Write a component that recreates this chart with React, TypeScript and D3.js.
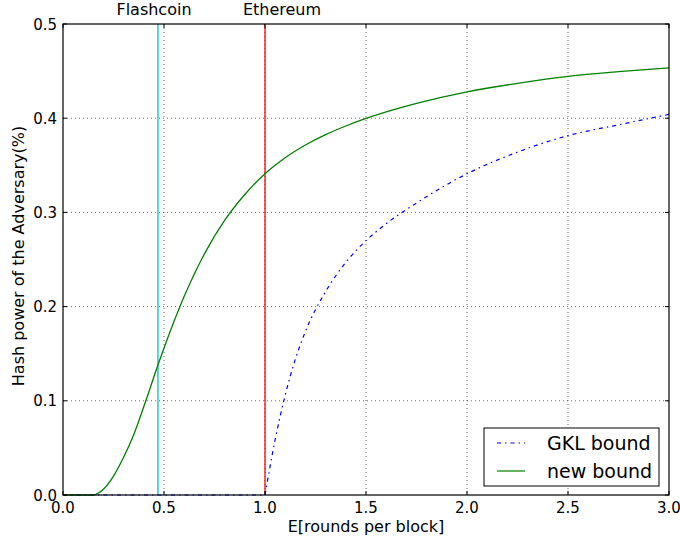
import * as d3 from "d3";
import { useEffect, useRef } from "react";

// new bound (green, solid)
const newX = [0, 0.15, 0.2, 0.25, 0.3, 0.35, 0.41, 0.47, 0.5, 0.6, 0.7, 0.8, 0.9, 1.0, 1.1, 1.2, 1.3, 1.4, 1.5, 1.75, 2.0, 2.25, 2.5, 2.75, 3.0];
const newY = [0, 0, 0.006, 0.02, 0.04, 0.064, 0.1, 0.138, 0.156, 0.211, 0.256, 0.2915, 0.319, 0.341, 0.358, 0.3715, 0.3825, 0.3917, 0.3997, 0.4157, 0.428, 0.437, 0.4445, 0.4495, 0.4535];

// GKL bound (blue, dash-dot): zero up to 1.0, then rising
const gklFlatX = [0, 1.0];
const gklFlatY = [0, 0];
const gklX = [1.0, 1.05, 1.1, 1.15, 1.2, 1.3, 1.4, 1.5, 1.6, 1.75, 2.0, 2.25, 2.5, 2.75, 3.0];
const gklY = [0, 0.0585, 0.106, 0.144, 0.1735, 0.216, 0.247, 0.27, 0.288, 0.31, 0.341, 0.364, 0.3815, 0.393, 0.404];

const xTicks = [0, 0.5, 1.0, 1.5, 2.0, 2.5, 3.0];
const yTicks = [0, 0.1, 0.2, 0.3, 0.4, 0.5];

const markers = [
  { name: "Flashcoin", x: 0.47, color: "#00bfbf", labelX: 154 },
  { name: "Ethereum", x: 1.0, color: "#ff0000", labelX: 282 },
];

const App = () => {
  const svgRef = useRef<SVGSVGElement>(null);

  useEffect(() => {
    const svg = d3.select(svgRef.current);
    svg.selectAll("*").remove();

    const left = 63, right = 669, top = 24, bottom = 495;
    const font = "DejaVu Sans, sans-serif";
    const dashDot = "4,4,1.5,4";

    const x = d3.scaleLinear().domain([0, 3]).range([left, right]);
    const y = d3.scaleLinear().domain([0, 0.5]).range([bottom, top]);

    svg.append("rect").attr("width", 680).attr("height", 541).attr("fill", "white");

    // grid
    const grid = svg.append("g").attr("stroke", "#000").attr("stroke-width", 0.6).attr("stroke-dasharray", "1,3");
    xTicks.slice(1, -1).forEach(t => {
      grid.append("line").attr("x1", x(t)).attr("x2", x(t)).attr("y1", top).attr("y2", bottom);
    });
    yTicks.slice(1, -1).forEach(t => {
      grid.append("line").attr("x1", left).attr("x2", right).attr("y1", y(t)).attr("y2", y(t));
    });

    // vertical marker lines
    markers.forEach(m => {
      svg.append("line")
        .attr("x1", x(m.x)).attr("x2", x(m.x))
        .attr("y1", top).attr("y2", bottom)
        .attr("stroke", m.color).attr("stroke-width", 1.3);
      svg.append("text")
        .attr("x", m.labelX).attr("y", 15)
        .attr("text-anchor", "middle")
        .attr("font-family", font).attr("font-size", 16)
        .attr("fill", "#000")
        .text(m.name);
    });

    const line = d3.line<[number, number]>()
      .x(d => x(d[0]))
      .y(d => y(d[1]))
      .curve(d3.curveMonotoneX);

    const pairs = (xs: number[], ys: number[]) => xs.map((v, i) => [v, ys[i]] as [number, number]);

    svg.append("path")
      .datum(pairs(gklFlatX, gklFlatY))
      .attr("fill", "none")
      .attr("stroke", "#0000ff")
      .attr("stroke-width", 1.2)
      .attr("stroke-dasharray", dashDot)
      .attr("d", line);

    svg.append("path")
      .datum(pairs(gklX, gklY))
      .attr("fill", "none")
      .attr("stroke", "#0000ff")
      .attr("stroke-width", 1.2)
      .attr("stroke-dasharray", dashDot)
      .attr("d", line);

    svg.append("path")
      .datum(pairs(newX, newY))
      .attr("fill", "none")
      .attr("stroke", "#008000")
      .attr("stroke-width", 1.3)
      .attr("d", line);

    // ticks inside on all four sides
    const ticks = svg.append("g").attr("stroke", "#000").attr("stroke-width", 1);
    xTicks.forEach(t => {
      ticks.append("line").attr("x1", x(t)).attr("x2", x(t)).attr("y1", bottom).attr("y2", bottom - 4);
      ticks.append("line").attr("x1", x(t)).attr("x2", x(t)).attr("y1", top).attr("y2", top + 4);
    });
    yTicks.forEach(t => {
      ticks.append("line").attr("x1", left).attr("x2", left + 4).attr("y1", y(t)).attr("y2", y(t));
      ticks.append("line").attr("x1", right).attr("x2", right - 4).attr("y1", y(t)).attr("y2", y(t));
    });

    // frame
    svg.append("rect")
      .attr("x", left).attr("y", top)
      .attr("width", right - left).attr("height", bottom - top)
      .attr("fill", "none").attr("stroke", "#000").attr("stroke-width", 1.2);

    // tick labels
    xTicks.forEach(t => {
      svg.append("text")
        .attr("x", x(t)).attr("y", bottom + 18)
        .attr("text-anchor", "middle")
        .attr("font-family", font).attr("font-size", 15)
        .text(d3.format(".1f")(t));
    });
    yTicks.forEach(t => {
      svg.append("text")
        .attr("x", left - 6).attr("y", y(t) + 5.5)
        .attr("text-anchor", "end")
        .attr("font-family", font).attr("font-size", 15)
        .text(d3.format(".1f")(t));
    });

    // axis titles
    svg.append("text")
      .attr("x", (left + right) / 2).attr("y", 532)
      .attr("text-anchor", "middle")
      .attr("font-family", font).attr("font-size", 16)
      .text("E[rounds per block]");

    svg.append("text")
      .attr("transform", `translate(24,256) rotate(-90)`)
      .attr("text-anchor", "middle")
      .attr("font-family", font).attr("font-size", 16)
      .text("Hash power of the Adversary(%)");

    // legend
    const lg = svg.append("g");
    lg.append("rect")
      .attr("x", 484).attr("y", 428).attr("width", 175).attr("height", 58)
      .attr("fill", "white").attr("stroke", "#000").attr("stroke-width", 1);
    const items = [
      { label: "GKL bound", color: "#0000ff", dash: dashDot, yy: 443 },
      { label: "new bound", color: "#008000", dash: null, yy: 471 },
    ];
    items.forEach(it => {
      lg.append("line")
        .attr("x1", 497).attr("x2", 525).attr("y1", it.yy).attr("y2", it.yy)
        .attr("stroke", it.color).attr("stroke-width", 1.2)
        .attr("stroke-dasharray", it.dash);
      lg.append("text")
        .attr("x", 547).attr("y", it.yy + 6.5)
        .attr("font-family", font).attr("font-size", 19)
        .text(it.label);
    });
  }, []);

  return (
    <svg
      ref={svgRef}
      width={680}
      height={541}
      style={{ position: "absolute", left: 0, top: 0 }}
    />
  );
};

export default App;
